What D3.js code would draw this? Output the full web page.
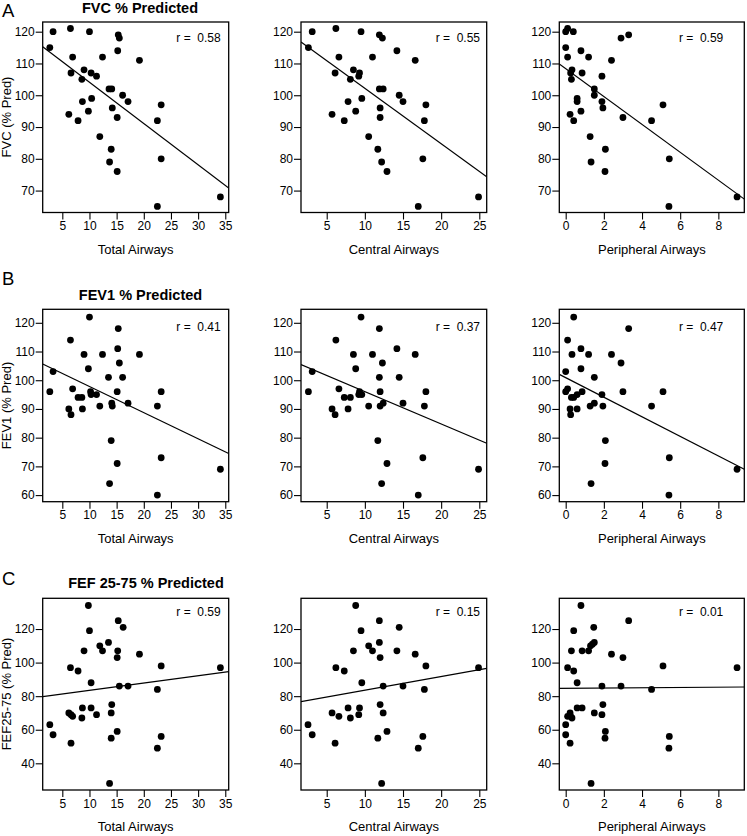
<!DOCTYPE html>
<html><head><meta charset="utf-8">
<script src="https://cdn.jsdelivr.net/npm/d3@7"></script>
<style>
body{margin:0;background:#fff}
svg{display:block}
text{font-family:"Liberation Sans",Arial,Helvetica,sans-serif;fill:#000}
</style>
</head><body><svg id="c" width="747" height="836"></svg>
<script>
// ---------- data ----------
const columnLabels = ["Total Airways", "Central Airways", "Peripheral Airways"];
const rowTitles = ["FVC % Predicted", "FEV1 % Predicted", "FEF 25-75 % Predicted"];
const rowYLabels = ["FVC (% Pred)", "FEV1 (% Pred)", "FEF25-75 (% Pred)"];
const panelLetters = ["A", "B", "C"];
const xTicks = [[5, 10, 15, 20, 25, 30, 35], [5, 10, 15, 20, 25], [0, 2, 4, 6, 8]];
const yTicks = [[70, 80, 90, 100, 110, 120], [60, 70, 80, 90, 100, 110, 120], [40, 60, 80, 100, 120]];
const rValues = [["0.58", "0.55", "0.59"], ["0.41", "0.37", "0.47"], ["0.59", "0.15", "0.01"]];
const fitIntercepts = [[117.1, 119.6, 108.4], [106.9, 107.3, 100.9], [79.1, 75.4, 84.7]];
const fitSlopes = [[-1.30, -1.744, -4.39], [-0.909, -1.127, -3.41], [0.436, 0.816, 0.08]];

const fvcTotal = [[2.7,115],[3.3,120],[6.5,121],[10.0,120],[15.3,119],[15.5,118],[15.2,114],[6.9,112],[12.4,112],[19.2,111],[6.6,107],[9.0,108],[10.3,107],[11.3,106],[8.6,105],[13.6,102],[14.1,102],[16.1,100],[10.4,99],[8.7,98],[17.1,98],[14.2,96],[23.2,97],[9.8,95],[6.2,94],[15.1,93],[7.9,92],[22.5,92],[11.9,87],[14.0,83],[23.2,80],[13.7,79],[15.1,76],[22.5,65],[34.1,68]];
const fvcCentral = [[2.6,115],[3.1,120],[6.2,121],[9.5,120],[11.9,119],[12.3,118],[14.2,114],[16.6,111],[6.6,112],[11.0,112],[8.5,108],[6.1,107],[9.3,107],[9.2,106],[8.1,105],[11.9,102],[12.4,102],[14.5,100],[9.6,99],[7.8,98],[15.0,98],[18.0,97],[12.0,96],[8.8,95],[5.7,94],[12.0,93],[7.3,92],[17.8,92],[10.5,87],[11.7,83],[17.6,80],[12.2,79],[12.9,76],[17.0,65],[24.9,68]];
const fvcPeripheral = [[0.0,120],[0.1,121],[0.4,120],[2.9,118],[3.3,119],[0.0,115],[0.8,114],[0.1,112],[1.2,112],[2.4,111],[0.33,108],[0.26,107],[0.86,107],[0.3,105],[1.9,106],[1.5,102],[1.5,100],[0.6,99],[0.6,98],[1.9,98],[5.1,97],[1.95,96],[0.8,95],[0.23,94],[3.0,93],[0.42,92],[4.5,92],[1.28,87],[2.08,83],[5.43,80],[1.33,79],[2.06,76],[5.41,65],[8.98,68]];
const fev1Total = [[2.7,96],[3.3,103],[6.5,114],[10.0,122],[15.3,118],[15.2,111],[15.5,106],[9.0,109],[12.4,109],[19.2,109],[9.8,104],[13.5,101],[16.1,101],[6.9,97],[15.1,96],[23.2,96],[10.2,96],[10.3,95],[11.3,95],[7.9,94],[8.6,94],[14.1,92],[17.1,92],[11.9,91],[14.2,91],[22.5,91],[6.2,90],[8.7,90],[6.6,88],[14.0,79],[23.2,73],[15.1,71],[13.7,64],[22.5,60],[34.1,69]];
const fev1Central = [[2.6,96],[3.1,103],[6.2,114],[9.5,122],[11.9,118],[14.2,111],[16.6,109],[8.5,109],[11.0,109],[12.3,106],[8.8,104],[11.9,101],[14.5,101],[6.6,97],[12.0,96],[18.0,96],[9.3,96],[9.2,95],[9.6,95],[7.3,94],[8.1,94],[12.4,92],[15.0,92],[10.5,91],[12.0,91],[17.8,91],[5.7,90],[7.8,90],[6.1,88],[11.7,79],[17.6,73],[12.9,71],[12.2,64],[17.0,60],[24.9,69]];
const fev1Peripheral = [[0.42,122],[3.3,118],[0.1,114],[0.8,111],[0.33,109],[1.2,109],[2.4,109],[2.9,106],[0.8,104],[0.0,103],[1.5,101],[0.0,96],[0.1,97],[0.86,96],[3.0,96],[5.1,96],[0.6,95],[1.9,95],[0.3,94],[0.42,94],[1.5,92],[1.28,91],[1.95,91],[4.5,91],[0.23,90],[0.6,90],[0.26,88],[2.08,79],[5.43,73],[2.06,71],[1.33,64],[5.41,60],[8.98,69]];
const fefTotal = [[9.8,134],[15.3,125],[16.2,121],[10.0,119],[13.5,112],[11.9,110],[12.4,107],[9.0,107],[15.2,107],[15.1,103],[19.2,105],[6.5,97],[7.9,95],[23.2,98],[34.1,97],[10.3,88],[15.5,86],[17.1,86],[22.5,84],[14.1,75],[8.7,73],[10.3,73],[6.2,70],[6.6,69],[6.9,68],[11.3,69],[14.0,70],[8.6,67],[2.7,63],[3.3,57],[15.1,59],[23.2,56],[14.0,55],[6.6,52],[22.5,49],[13.7,28]];
const fefCentral = [[8.8,134],[11.9,125],[14.5,121],[9.5,119],[11.9,112],[10.5,110],[11.0,107],[8.5,107],[14.2,107],[12.0,103],[16.6,105],[6.2,97],[7.3,95],[18.0,98],[24.9,97],[9.6,88],[12.4,86],[15.0,86],[17.8,84],[12.0,75],[7.8,73],[9.3,73],[5.7,70],[6.6,68],[9.2,69],[12.4,70],[8.1,67],[2.55,63],[3.1,57],[12.9,59],[17.6,56],[11.7,55],[6.1,52],[17.0,49],[12.2,28]];
const fefPeripheral = [[0.8,134],[3.3,125],[1.47,121],[0.42,119],[1.5,112],[1.3,110],[1.4,111],[1.2,107],[0.3,107],[0.86,107],[3.0,103],[2.4,105],[0.1,97],[0.42,95],[5.1,98],[8.98,97],[0.6,88],[1.9,86],[2.9,86],[4.5,84],[1.95,75],[0.6,73],[0.86,73],[0.23,70],[0.26,68],[0.33,67],[1.5,70],[1.9,69],[0.1,68],[0.0,63],[0.0,57],[2.08,59],[5.43,56],[2.06,55],[0.23,52],[5.41,49],[1.33,28]];

const panelData = [
  [fvcTotal, fvcCentral, fvcPeripheral],
  [fev1Total, fev1Central, fev1Peripheral],
  [fefTotal, fefCentral, fefPeripheral]
];

// ---------- layout ----------
const cols = [
  {left: 42.7, right: 228.7, domain: [1.39, 35.63], rRight: 220.7},
  {left: 301, right: 486.7, domain: [1.63, 25.97], rRight: 480},
  {left: 559.3, right: 744.3, domain: [-0.335, 9.36], rRight: 723.3}
];
const rows = [
  {top: 22, bottom: 212.5, domain: [63.1, 123.05], titleX: 140, titleY: 13, letterY: 17, rY: 42.3, ylabY: 117},
  {top: 309.3, bottom: 501.7, domain: [57.7, 124.7], titleX: 140.5, titleY: 300, letterY: 285, rY: 331, ylabY: 405.5},
  {top: 598.3, bottom: 790, domain: [24.1, 138.3], titleX: 146, titleY: 588.3, letterY: 585, rY: 615.7, ylabY: 694}
];

const svg = d3.select("#c");
const TICK = 7;

rows.forEach((row, ri) => {
  svg.append("text").attr("x", 2).attr("y", row.letterY)
    .attr("font-size", 18.5).text(panelLetters[ri]);
  svg.append("text").attr("x", row.titleX).attr("y", row.titleY)
    .attr("text-anchor", "middle").attr("font-size", 14.5).attr("font-weight", "bold")
    .text(rowTitles[ri]);
  svg.append("text")
    .attr("transform", `translate(11,${row.ylabY}) rotate(-90)`)
    .attr("text-anchor", "middle").attr("font-size", 13)
    .text(rowYLabels[ri]);

  cols.forEach((col, ci) => {
    const x = d3.scaleLinear().domain(col.domain).range([col.left, col.right]);
    const y = d3.scaleLinear().domain(row.domain).range([row.bottom, row.top]);
    const g = svg.append("g");

    const xAxis = d3.axisBottom(x).tickValues(xTicks[ci]).tickSize(TICK).tickPadding(2).tickFormat(d3.format("d"));
    const yAxis = d3.axisLeft(y).tickValues(yTicks[ri]).tickSize(TICK).tickPadding(1).tickFormat(d3.format("d"));
    const gx = g.append("g").attr("transform", `translate(0,${row.bottom})`).call(xAxis);
    const gy = g.append("g").attr("transform", `translate(${col.left},0)`).call(yAxis);
    [gx, gy].forEach(a => {
      a.select(".domain").remove();
      a.selectAll("line").attr("stroke", "#000").attr("stroke-width", 1.1);
      a.selectAll("text").attr("font-size", 12).attr("fill", "#000")
        .attr("font-family", '"Liberation Sans",Arial,Helvetica,sans-serif');
    });

    g.append("rect").attr("x", col.left).attr("y", row.top)
      .attr("width", col.right - col.left).attr("height", row.bottom - row.top)
      .attr("fill", "none").attr("stroke", "#000").attr("stroke-width", 1.3);

    const cid = `clip${ri}${ci}`;
    svg.append("clipPath").attr("id", cid).append("rect")
      .attr("x", col.left).attr("y", row.top)
      .attr("width", col.right - col.left).attr("height", row.bottom - row.top);

    const b0 = fitIntercepts[ri][ci], b1 = fitSlopes[ri][ci];
    const xs = x.domain();
    g.append("line").attr("clip-path", `url(#${cid})`)
      .attr("x1", x(xs[0])).attr("y1", y(b0 + b1 * xs[0]))
      .attr("x2", x(xs[1])).attr("y2", y(b0 + b1 * xs[1]))
      .attr("stroke", "#000").attr("stroke-width", 1.2);

    g.selectAll("circle.pt").data(panelData[ri][ci]).join("circle")
      .attr("class", "pt")
      .attr("cx", d => x(d[0])).attr("cy", d => y(d[1])).attr("r", 3.4)
      .attr("fill", "#000");

    g.append("text").attr("x", col.rRight).attr("y", row.rY)
      .attr("text-anchor", "end").attr("font-size", 12)
      .style("white-space", "pre")
      .text("r =  " + rValues[ri][ci]);

    g.append("text").attr("x", (col.left + col.right) / 2).attr("y", row.bottom + 41)
      .attr("text-anchor", "middle").attr("font-size", 13)
      .text(columnLabels[ci]);
  });
});
</script>
</body></html>
